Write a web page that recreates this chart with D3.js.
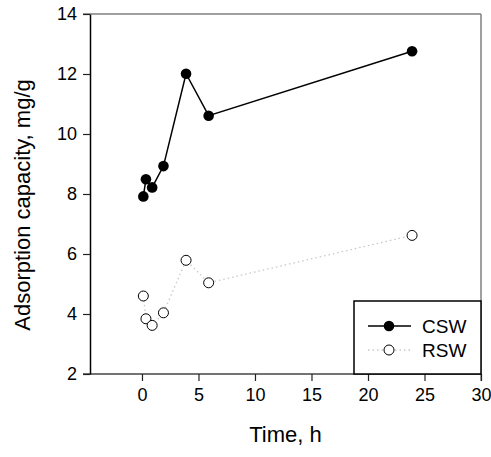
<!DOCTYPE html>
<html>
<head>
<meta charset="utf-8">
<script src="https://cdn.jsdelivr.net/npm/d3@7"></script>
<style>
  body { margin: 0; background: #fff; }
  svg text { font-family: Arial, "Liberation Sans", sans-serif; fill: #000; }
</style>
</head>
<body>
<div id="chart"></div>
<script>
// data
const timeH = [0.12, 0.35, 0.9, 1.9, 3.9, 5.9, 23.9];
const cswValues = [7.92, 8.49, 8.22, 8.93, 12.01, 10.61, 12.76];
const rswValues = [4.6, 3.84, 3.62, 4.04, 5.79, 5.04, 6.62];
const xTicks = [0, 5, 10, 15, 20, 25, 30];
const yTicks = [2, 4, 6, 8, 10, 12, 14];
const seriesNames = ["CSW", "RSW"];

const width = 491, height = 457;
const margin = {top: 14, right: 10, bottom: 83, left: 90};
const innerW = width - margin.left - margin.right;
const innerH = height - margin.top - margin.bottom;

const svg = d3.select("#chart").append("svg")
    .attr("width", width)
    .attr("height", height);

const g = svg.append("g")
    .attr("transform", `translate(${margin.left}, ${margin.top})`);

const x = d3.scaleLinear().domain([-4.6, 30]).range([0, innerW]);
const y = d3.scaleLinear().domain([2, 14]).range([innerH, 0]);

// frame: top and right in grey
g.append("line")
    .attr("x1", -7).attr("x2", innerW)
    .attr("y1", 0).attr("y2", 0)
    .attr("stroke", "#808080").attr("stroke-width", 1.5);
g.append("line")
    .attr("x1", innerW).attr("x2", innerW)
    .attr("y1", 0).attr("y2", innerH + 7)
    .attr("stroke", "#808080").attr("stroke-width", 1.5);

// x axis
const xAxis = g.append("g")
    .attr("transform", `translate(0, ${innerH})`)
    .call(d3.axisBottom(x).tickValues(xTicks).tickSize(7).tickPadding(7).tickSizeOuter(0));
xAxis.select(".domain").attr("stroke", "#444").attr("stroke-width", 1.5)
    .attr("d", `M-7,0H${innerW}`);
xAxis.selectAll(".tick line").attr("stroke", "#222").attr("stroke-width", 1.2);
xAxis.selectAll("text").style("font-size", "18px").attr("font-family", null);

// y axis
const yAxis = g.append("g")
    .call(d3.axisLeft(y).tickValues(yTicks).tickSize(7).tickPadding(6).tickSizeOuter(0));
yAxis.select(".domain").attr("stroke", "#000").attr("stroke-width", 1.5);
yAxis.selectAll(".tick line").attr("stroke", "#222").attr("stroke-width", 1.2);
yAxis.selectAll("text").style("font-size", "18px").attr("font-family", null);

// axis titles
svg.append("text")
    .attr("x", margin.left + innerW / 2)
    .attr("y", 442)
    .attr("text-anchor", "middle")
    .style("font-size", "22px")
    .text("Time, h");

svg.append("text")
    .attr("transform", `translate(30, 205) rotate(-90)`)
    .attr("text-anchor", "middle")
    .style("font-size", "22px")
    .text("Adsorption capacity, mg/g");

const csw = timeH.map((t, i) => ({t: t, v: cswValues[i]}));
const rsw = timeH.map((t, i) => ({t: t, v: rswValues[i]}));

const line = d3.line().x(d => x(d.t)).y(d => y(d.v));

// RSW dotted grey line
g.append("path")
    .datum(rsw)
    .attr("d", line)
    .attr("fill", "none")
    .attr("stroke", "#c8c8c8")
    .attr("stroke-width", 1.3)
    .attr("stroke-dasharray", "1.5,3");

g.selectAll(".rsw-pt")
    .data(rsw)
    .join("circle")
    .attr("class", "rsw-pt")
    .attr("cx", d => x(d.t))
    .attr("cy", d => y(d.v))
    .attr("r", 5)
    .attr("fill", "#fff")
    .attr("stroke", "#000")
    .attr("stroke-width", 1);

// CSW solid black line
g.append("path")
    .datum(csw)
    .attr("d", line)
    .attr("fill", "none")
    .attr("stroke", "#000")
    .attr("stroke-width", 1.5);

g.selectAll(".csw-pt")
    .data(csw)
    .join("circle")
    .attr("class", "csw-pt")
    .attr("cx", d => x(d.t))
    .attr("cy", d => y(d.v))
    .attr("r", 5.3)
    .attr("fill", "#000");

// legend
const legend = svg.append("g").attr("transform", "translate(354, 301)");
legend.append("rect")
    .attr("x", 0).attr("y", 0)
    .attr("width", 127).attr("height", 73)
    .attr("fill", "#fff")
    .attr("stroke", "#000")
    .attr("stroke-width", 1.5);

seriesNames.forEach((name, i) => {
    const ly = 25 + i * 24;
    const row = legend.append("g").attr("transform", `translate(0, ${ly})`);
    if (i === 0) {
        row.append("line").attr("x1", 14).attr("x2", 57).attr("y1", 0).attr("y2", 0)
            .attr("stroke", "#000").attr("stroke-width", 1.5);
        row.append("circle").attr("cx", 35).attr("cy", 0).attr("r", 5.3).attr("fill", "#000");
    } else {
        row.append("line").attr("x1", 14).attr("x2", 57).attr("y1", 0).attr("y2", 0)
            .attr("stroke", "#c8c8c8").attr("stroke-width", 1.3).attr("stroke-dasharray", "1.5,3");
        row.append("circle").attr("cx", 35).attr("cy", 0).attr("r", 5)
            .attr("fill", "#fff").attr("stroke", "#000").attr("stroke-width", 1);
    }
    row.append("text")
        .attr("x", 68).attr("y", 7)
        .style("font-size", "19px")
        .text(name);
});
</script>
</body>
</html>
